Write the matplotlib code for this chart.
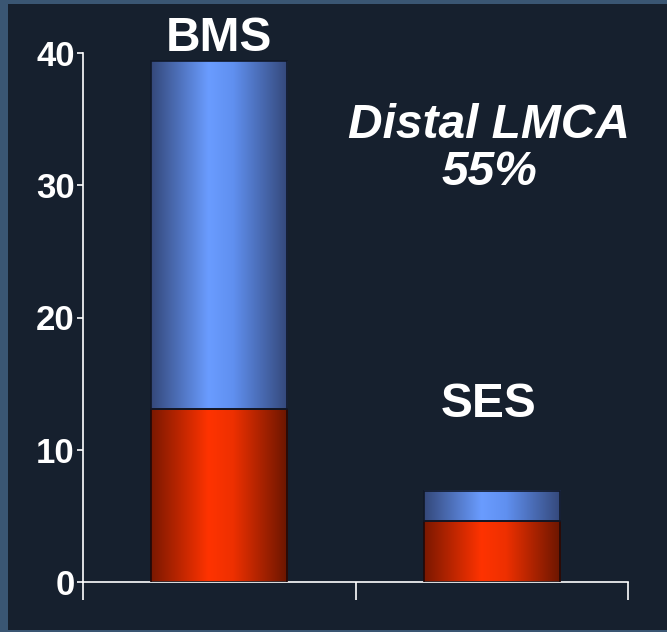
import matplotlib
matplotlib.use("Agg")
import matplotlib.pyplot as plt
import numpy as np
from matplotlib.colors import LinearSegmentedColormap
from matplotlib.patches import Rectangle

categories = ["BMS", "SES"]
red_values = [13.1, 4.6]
blue_values = [26.3, 2.3]
yticks = [0, 10, 20, 30, 40]
title_lines = ["Distal LMCA", "55%"]

plt.rcParams['font.family'] = ['Liberation Sans', 'DejaVu Sans']

fig = plt.figure(figsize=(6.67, 6.32), dpi=100)
fig.patch.set_facecolor('#3a5673')
fig.patches.append(Rectangle((8/667, 2/632), 1 - 8/667, 1 - 6/632, transform=fig.transFigure,
                             facecolor='#16202e', edgecolor='none', zorder=-10))

ax = fig.add_axes([83/667, 1 - 582/632, (628-83)/667, (582-53)/632])
ax.set_facecolor('none')
ax.set_zorder(5)

x = np.arange(len(categories))
red_cmap = LinearSegmentedColormap.from_list('r', [(0, '#7a1800'), (0.42, '#ff3300'), (0.6, '#ee3000'), (1, '#6a1600')])
blue_cmap = LinearSegmentedColormap.from_list('b', [(0, '#34487a'), (0.42, '#6a9cff'), (0.6, '#6090f0'), (1, '#34487a')])
grad = np.linspace(0, 1, 256).reshape(1, -1)

b1 = ax.bar(x, red_values, width=0.5, color='none', edgecolor='#200808', linewidth=1.2, zorder=3)
b2 = ax.bar(x, blue_values, bottom=red_values, width=0.5, color='none', edgecolor='#101828', linewidth=1.2, zorder=3)
for bars, cmap in ((b1, red_cmap), (b2, blue_cmap)):
    for p in bars:
        x0, y0 = p.get_x(), p.get_y()
        w, h = p.get_width(), p.get_height()
        ax.imshow(grad, cmap=cmap, extent=[x0, x0 + w, y0, y0 + h], aspect='auto', zorder=2,
                  interpolation='bilinear')

ax.set_xlim(-0.5, 1.5)
ax.set_ylim(0, 40)
ax.set_yticks(yticks)
ax.set_yticklabels([str(t) for t in yticks], fontsize=25, fontweight='bold', color='white')
ax.set_xticks([-0.5, 0.5, 1.5])
ax.set_xticklabels([])
ax.tick_params(axis='y', length=4, width=1.2, color='white', pad=2)
ax.tick_params(axis='x', length=13, width=1.2, color='white')
for s in ['top', 'right']:
    ax.spines[s].set_visible(False)
for s in ['left', 'bottom']:
    ax.spines[s].set_color('white')
    ax.spines[s].set_linewidth(1.2)

ax.text(x[0], 41.1, categories[0], ha='center', va='center', fontsize=34.5,
        fontweight='bold', color='white', clip_on=False)
ax.text(x[1] - 0.01, 13.4, categories[1], ha='center', va='center', fontsize=34.5,
        fontweight='bold', color='white')
ax.text(0.99, 34.5, title_lines[0], ha='center', va='center', fontsize=34.5,
        fontweight='bold', style='italic', color='white')
ax.text(0.99, 31.0, title_lines[1], ha='center', va='center', fontsize=34.5,
        fontweight='bold', style='italic', color='white')

fig.savefig('out.png', dpi=100, facecolor=fig.get_facecolor())
